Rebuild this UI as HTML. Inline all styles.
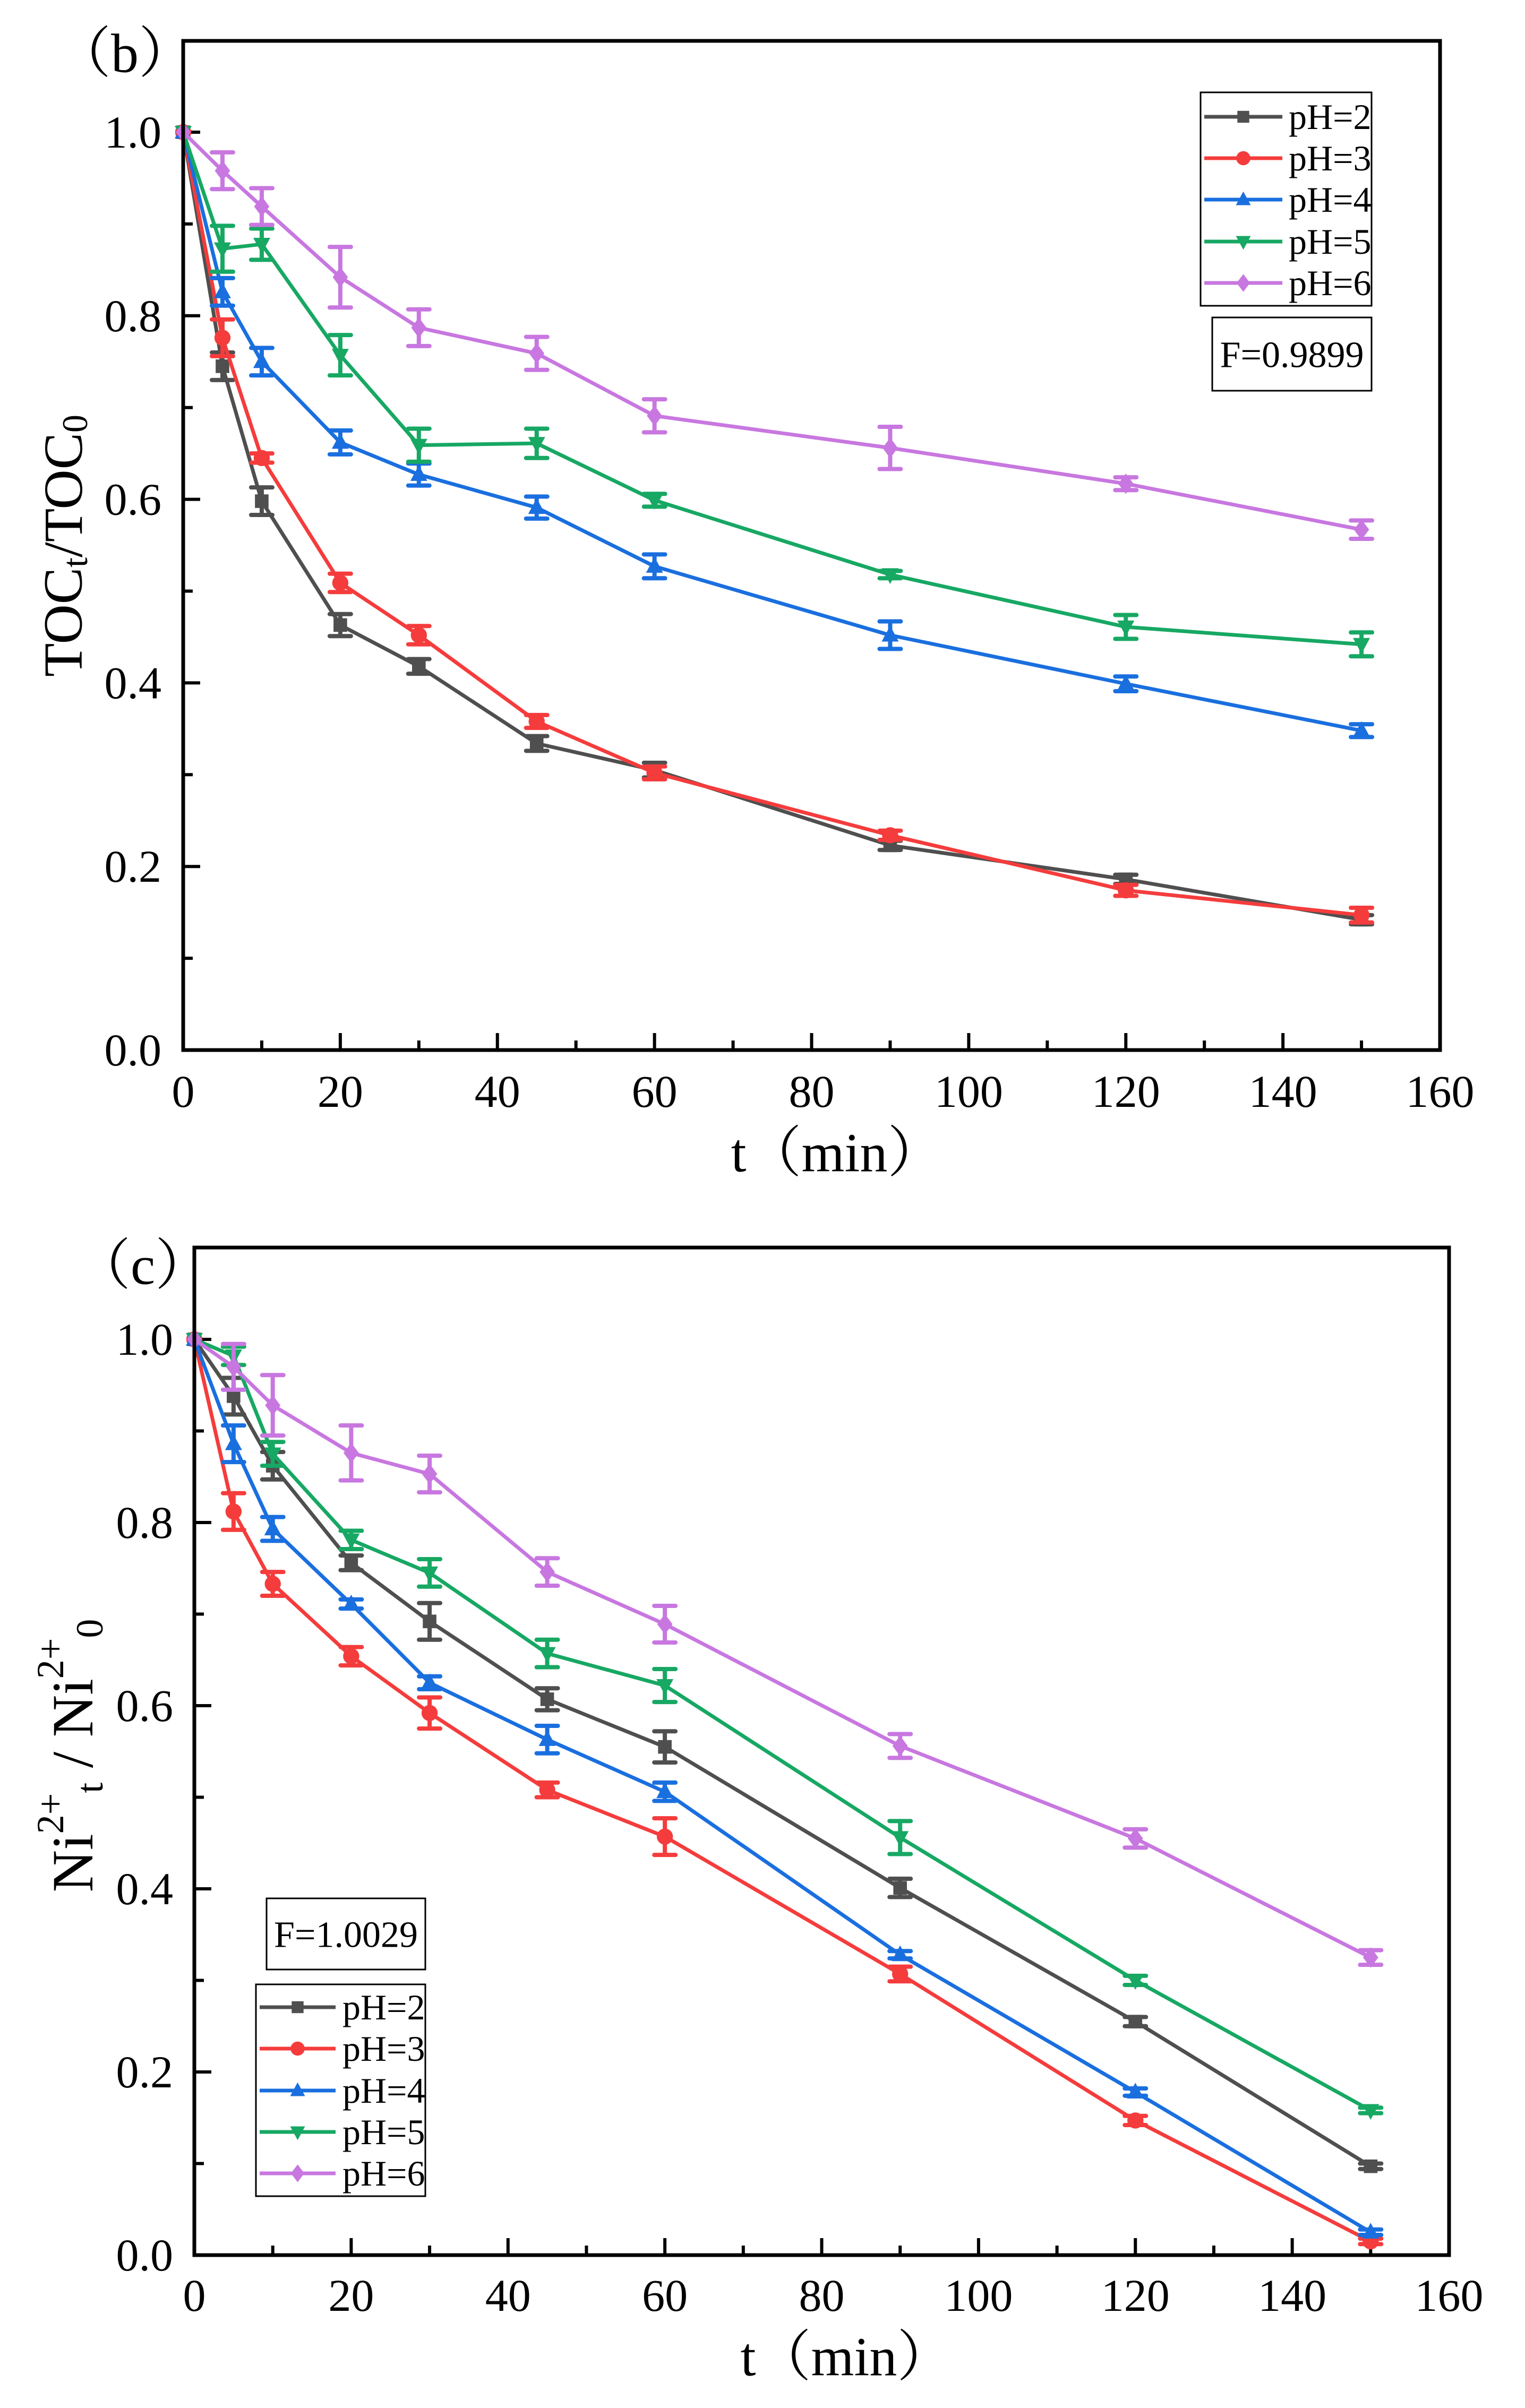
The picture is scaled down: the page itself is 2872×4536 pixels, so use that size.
<!DOCTYPE html>
<html><head><meta charset="utf-8"><style>
html,body{margin:0;padding:0;background:#fff}
svg{display:block;font-family:"Liberation Serif","Noto Serif CJK SC",serif}
</style></head><body>
<svg id="svg" width="2872" height="4536" viewBox="0 0 2872 4536" xmlns="http://www.w3.org/2000/svg">
<rect width="2872" height="4536" fill="#fff"/>
</svg>
<script>
const times = [0,5,10,20,30,45,60,90,120,150];
const seriesNames = ["pH=2","pH=3","pH=4","pH=5","pH=6"];
const xTicks = [0,20,40,60,80,100,120,140,160];
const yTicks = [0,0.2,0.4,0.6,0.8,1.0];
const tocPH2 = [1,0.745,0.598,0.463,0.418,0.334,0.305,0.223,0.186,0.142];
const tocPH3 = [1,0.776,0.645,0.509,0.452,0.358,0.302,0.234,0.174,0.147];
const tocPH4 = [1,0.826,0.750,0.662,0.627,0.591,0.527,0.452,0.399,0.348];
const tocPH5 = [1,0.873,0.878,0.757,0.659,0.661,0.599,0.518,0.461,0.442];
const tocPH6 = [1,0.958,0.919,0.842,0.787,0.759,0.691,0.656,0.617,0.567];
const tocErr2 = [0,0.015,0.015,0.012,0.008,0.008,0.008,0.005,0.005,0.005];
const tocErr3 = [0,0.02,0.005,0.01,0.01,0.007,0.007,0.005,0.006,0.008];
const tocErr4 = [0,0.015,0.015,0.013,0.012,0.012,0.013,0.015,0.008,0.007];
const tocErr5 = [0,0.025,0.017,0.022,0.018,0.016,0.007,0.004,0.013,0.013];
const tocErr6 = [0,0.02,0.02,0.033,0.02,0.018,0.018,0.023,0.007,0.01];
const niPH2 = [1,0.938,0.862,0.756,0.692,0.607,0.555,0.401,0.255,0.097];
const niPH3 = [1,0.812,0.733,0.654,0.592,0.508,0.457,0.307,0.147,0.015];
const niPH4 = [1,0.886,0.793,0.711,0.625,0.563,0.506,0.328,0.178,0.025];
const niPH5 = [1,0.982,0.875,0.781,0.745,0.657,0.622,0.456,0.300,0.158];
const niPH6 = [1,0.970,0.928,0.876,0.853,0.746,0.689,0.556,0.455,0.325];
const niErr2 = [0,0.02,0.015,0.008,0.02,0.012,0.017,0.01,0.005,0.003];
const niErr3 = [0,0.02,0.013,0.01,0.017,0.008,0.02,0.008,0.005,0.003];
const niErr4 = [0,0.02,0.013,0.005,0.007,0.015,0.01,0.004,0.004,0.003];
const niErr5 = [0,0.01,0.013,0.01,0.015,0.015,0.018,0.018,0.005,0.003];
const niErr6 = [0,0.025,0.033,0.03,0.02,0.015,0.02,0.013,0.01,0.008];
const colors = ["#4f4f4f","#f53c3c","#1a6fdf","#17a863","#c877e0"];
const markers = ["square","circle","up","down","diamond"];

const NS="http://www.w3.org/2000/svg";
const svg=document.getElementById('svg');
function el(tag,attrs,parent,text){const e=document.createElementNS(NS,tag);for(const k in attrs)e.setAttribute(k,attrs[k]);if(text!==undefined)e.textContent=text;(parent||svg).appendChild(e);return e;}

function marker(g,type,cx,cy,c,s){
  let m;
  if(type==="square") m=el('rect',{x:cx-s*0.8,y:cy-s*0.8,width:s*1.6,height:s*1.6,fill:c},g);
  else if(type==="circle") m=el('circle',{cx:cx,cy:cy,r:s*0.95,fill:c},g);
  else if(type==="up") m=el('polygon',{points:`${cx},${cy-s*1.1} ${cx+s},${cy+s*0.75} ${cx-s},${cy+s*0.75}`,fill:c},g);
  else if(type==="down") m=el('polygon',{points:`${cx},${cy+s*1.1} ${cx+s},${cy-s*0.75} ${cx-s},${cy-s*0.75}`,fill:c},g);
  else m=el('polygon',{points:`${cx},${cy-s*1.2} ${cx+s*0.9},${cy} ${cx},${cy+s*1.2} ${cx-s*0.9},${cy}`,fill:c},g);
  return m;
}

function chart(cfg){
  const {L,R,T,B,y1,series,errs}=cfg;
  const g=el('g',{});
  
  
  const xS=v=>L+(R-L)*v/160;
  const yS=v=>B-(B-y1)*v;
  for(let v=0;v<=160;v+=10){
    const major=v%20===0;
    if(v>0&&v<160){const t=el('line',{x1:xS(v),x2:xS(v),y1:B,y2:B-(major?32:18),stroke:'#000','stroke-width':6},g);
    }
  }
  for(let i=1;i<=10;i++){
    const v=i/10, major=i%2===0;
    const t=el('line',{x1:L,x2:L+(major?32:18),y1:yS(v),y2:yS(v),stroke:'#000','stroke-width':6},g);
    
  }
  xTicks.forEach(v=>{const t=el('text',{x:xS(v),y:cfg.xLabY,'font-size':86,'text-anchor':'middle','dominant-baseline':'central'},g,String(v));
    });
  yTicks.forEach(v=>{const t=el('text',{x:cfg.yLabX,y:yS(v),'font-size':86,'text-anchor':'end','dominant-baseline':'central'},g,v.toFixed(1));
    });
  series.forEach((vals,si)=>{
    const sg=el('g',{},g);
    
    
    const c=colors[si];
    const pts=vals.map((v,i)=>xS(times[i])+','+yS(v)).join(' ');
    const ln=el('polyline',{points:pts,fill:'none',stroke:c,'stroke-width':7,'stroke-linejoin':'round'},sg);
    
    vals.forEach((v,i)=>{
      const e=errs[si][i];
      if(e>0){
        const x=xS(times[i]);
        const eb=el('path',{d:`M${x},${yS(v+e)}V${yS(v-e)}M${x-20},${yS(v+e)}H${x+20}M${x-20},${yS(v-e)}H${x+20}`,stroke:c,'stroke-width':8,'stroke-linecap':'round',fill:'none'},sg);
        
      }
      const m=marker(sg,markers[si],xS(times[i]),yS(v),c,16);
      
    });
  });
  const fr=el('rect',{x:L,y:T,width:R-L,height:B-T,fill:'none',stroke:'#000','stroke-width':7},g);
  
  const lg=el('g',{},g);
  
  const lb=cfg.leg;
  el('rect',{x:lb.x1,y:lb.y1,width:lb.x2-lb.x1,height:lb.y2-lb.y1,fill:'#fff',stroke:'#000','stroke-width':3},lg);
  seriesNames.forEach((n,i)=>{
    const y=lb.rows[i];
    const eg=el('g',{},lg);
    
    el('line',{x1:lb.lx1,x2:lb.lx2,y1:y,y2:y,stroke:colors[i],'stroke-width':7},eg);
    marker(eg,markers[i],(lb.lx1+lb.lx2)/2,y,colors[i],14);
    el('text',{x:lb.tx,y:y,'font-size':68,'dominant-baseline':'central'},eg,n);
  });
  const fb=cfg.fbox;
  const fg=el('g',{},g);
  
  el('rect',{x:fb.x1,y:fb.y1,width:fb.x2-fb.x1,height:fb.y2-fb.y1,fill:'#fff',stroke:'#000','stroke-width':3},fg);
  el('text',{x:(fb.x1+fb.x2)/2,y:(fb.y1+fb.y2)/2+2,'font-size':70,'text-anchor':'middle','dominant-baseline':'central'},fg,fb.text);
  return {g,xS,yS};
}

const b=chart({name:'chart-b-toc',L:345,R:2712,T:77,B:1978,y1:249,
  series:[tocPH2,tocPH3,tocPH4,tocPH5,tocPH6],errs:[tocErr2,tocErr3,tocErr4,tocErr5,tocErr6],
  xLabY:2056,yLabX:304,
  leg:{x1:2261,x2:2583,y1:174,y2:576,rows:[220,298,376,455,533],lx1:2268,lx2:2415,tx:2427},
  fbox:{x1:2283,x2:2583,y1:598,y2:736,text:'F=0.9899'}});
const c=chart({name:'chart-c-nickel',L:366,R:2729,T:2350,B:4248,y1:2523,
  series:[niPH2,niPH3,niPH4,niPH5,niPH6],errs:[niErr2,niErr3,niErr4,niErr5,niErr6],
  xLabY:4324,yLabX:326,
  leg:{x1:482,x2:801,y1:3738,y2:4137,rows:[3781,3859,3938,4016,4094],lx1:489,lx2:632,tx:645},
  fbox:{x1:502,x2:801,y1:3576,y2:3710,text:'F=1.0029'}});
</script>
<svg style="position:absolute;left:0;top:0" width="2872" height="4536" xmlns="http://www.w3.org/2000/svg">
<text x="105" y="101" font-size="104" dominant-baseline="central" font-family="Liberation Serif,Noto Serif CJK SC,serif">（b）</text>
<text x="142" y="2384" font-size="104" dominant-baseline="central" font-family="Liberation Serif,Noto Serif CJK SC,serif">（c）</text>
<text x="1576" y="2172" font-size="104" text-anchor="middle" dominant-baseline="central" font-family="Liberation Serif,Noto Serif CJK SC,serif">t（min）</text>
<text x="1594" y="4440" font-size="104" text-anchor="middle" dominant-baseline="central" font-family="Liberation Serif,Noto Serif CJK SC,serif">t（min）</text>
<text transform="translate(119,1028) rotate(-90)" font-size="104" text-anchor="middle" dominant-baseline="central" font-family="Liberation Serif,serif">TOC<tspan font-size="68" dy="22">t</tspan><tspan dy="-22">/TOC</tspan><tspan font-size="68" dy="22">0</tspan></text>
<text transform="translate(137,3307) rotate(-90)" font-size="110" text-anchor="middle" dominant-baseline="central" font-family="Liberation Serif,serif">Ni<tspan font-size="72" dy="-42">2+</tspan><tspan font-size="72" dy="74">t</tspan><tspan dy="-32"> / Ni</tspan><tspan font-size="72" dy="-42">2+</tspan><tspan font-size="72" dy="74">0</tspan></text>
</svg>
</body></html>
